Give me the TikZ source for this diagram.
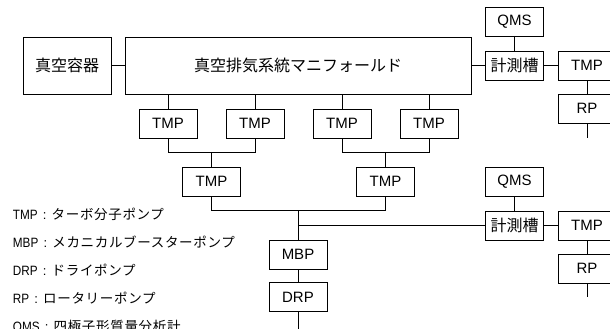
\documentclass[tikz,border=0pt]{standalone}
\usepackage{graphicx}
\usepackage{fontspec}
\setmainfont{Liberation Sans}
\newfontfamily\jpfont{Noto Sans CJK JP}
\newfontfamily\jplg[LetterSpace=5]{Noto Sans CJK JP}
\newcommand\lgitem[2]{\scalebox{0.87}[1]{\fontsize{13.5}{14}\selectfont #1}\makebox[14pt][c]{\fontsize{13}{14}\selectfont :}{\jplg\fontsize{13.5}{14}\selectfont #2}}
\begin{document}
\begin{tikzpicture}[x=1pt,y=-1pt,
  box/.style={draw=black, line width=0.9pt, minimum width=58pt, minimum height=29pt, inner sep=0pt, outer sep=0pt, font=\fontsize{15}{15}\selectfont},
  jbox/.style={box, font=\jpfont\fontsize{16}{16}\selectfont},
  bigbox/.style={jbox, minimum height=57pt},
  conn/.style={line width=0.9pt},
  lg/.style={anchor=base west, inner sep=0pt}]
\useasboundingbox (0,0) rectangle (610,329);
\clip (0,0) rectangle (610,329);
% main boxes
\node[bigbox, minimum width=88pt] (vessel) at (67,65.5) {真空容器};
\node[bigbox, minimum width=346pt] (mani) at (298,65.5) {真空排気系統マニフォールド};
% TMP rows
\node[box] (t1) at (168,123.5) {TMP};
\node[box] (t2) at (255,123.5) {TMP};
\node[box] (t3) at (342,123.5) {TMP};
\node[box] (t4) at (429,123.5) {TMP};
\node[box] (t5) at (211.5,181.5) {TMP};
\node[box] (t6) at (385.5,181.5) {TMP};
\node[box] (mbp) at (298,254.5) {MBP};
\node[box] (drp) at (298,297) {DRP};
% upper measuring chamber
\node[box] (qa) at (514.5,21.5) {QMS};
\node[jbox] (ca) at (514.5,65.5) {計測槽};
\node[box] (ta) at (587,65.5) {TMP};
\node[box] (ra) at (587,108.5) {RP};
% lower measuring chamber
\node[box] (qb) at (514.5,181.5) {QMS};
\node[jbox] (cb) at (514.5,225.5) {計測槽};
\node[box] (tb) at (587,225.5) {TMP};
\node[box] (rb) at (587,268.5) {RP};
% junction coordinates
\coordinate (j1) at (211.5,152);
\coordinate (j2) at (385.5,152);
\coordinate (j3) at (298,210);
\coordinate (ea) at (587,138);
\coordinate (eb) at (587,297);
\coordinate (ed) at (298,329);
% connectors
\draw[conn] (vessel.east) -- (mani.west);
\foreach \t in {t1,t2,t3,t4} \draw[conn] (\t.north) -- (\t.north |- mani.south);
\draw[conn] (t1.south) -- (t1.south |- j1) -- (t2.south |- j1) -- (t2.south);
\draw[conn] (t3.south) -- (t3.south |- j2) -- (t4.south |- j2) -- (t4.south);
\draw[conn] (j1) -- (t5.north);
\draw[conn] (j2) -- (t6.north);
\draw[conn] (t5.south) -- (t5.south |- j3) -- (t6.south |- j3) -- (t6.south);
\draw[conn] (j3) -- (mbp.north);
\draw[conn] (cb.west) -- (cb.west -| j3);
\draw[conn] (mbp.south) -- (drp.north);
\draw[conn] (drp.south) -- (ed);
\draw[conn] (mani.east |- ca.west) -- (ca.west);
\draw[conn] (qa.south) -- (ca.north);
\draw[conn] (ca.east) -- (ta.west);
\draw[conn] (ta.south) -- (ra.north);
\draw[conn] (ra.south) -- (ea);
\draw[conn] (qb.south) -- (cb.north);
\draw[conn] (cb.east) -- (tb.west);
\draw[conn] (tb.south) -- (rb.north);
\draw[conn] (rb.south) -- (eb);
% legend
\node[lg] (l1) at (12.7,219.5) {\lgitem{TMP}{ターボ分子ポンプ}};
\node[lg] (l2) at (12.7,247.5) {\lgitem{MBP}{メカニカルブースターポンプ}};
\node[lg] (l3) at (12.7,275.5) {\lgitem{DRP}{ドライポンプ}};
\node[lg] (l4) at (12.7,303.5) {\lgitem{RP}{ロータリーポンプ}};
\node[lg] (l5) at (12.7,331.5) {\lgitem{QMS}{四極子形質量分析計}};
\end{tikzpicture}
\end{document}
